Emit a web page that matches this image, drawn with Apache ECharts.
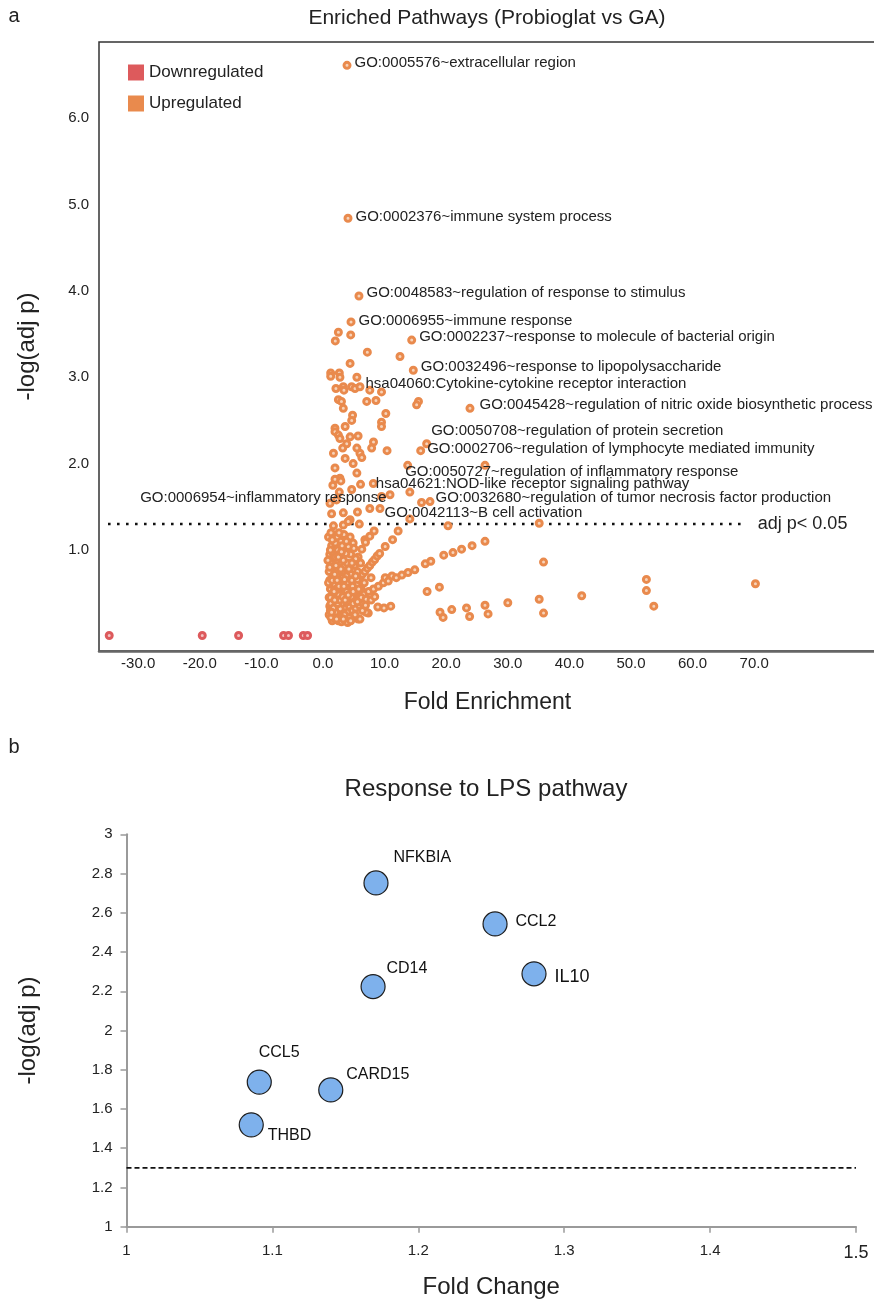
<!DOCTYPE html>
<html><head><meta charset="utf-8">
<script src="https://cdn.jsdelivr.net/npm/echarts@6/dist/echarts.min.js"></script>
<style>html,body{margin:0;padding:0;background:#fff}#c{width:874px;height:1301px}</style>
</head><body><div id="c"></div>
<script>
const FONT = '"Liberation Sans", Arial, Helvetica, sans-serif';

// ---------- Panel a data ----------
const downPoints = [[-34.7,0.01],[-19.6,0.01],[-13.7,0.01],[-6.4,0.01],[-5.6,0.01],[-3.2,0.01],[-2.5,0.01]];

const upAbove = [
 [2.5,3.52],[2.0,3.42],[4.5,3.49],[7.2,3.29],[12.5,3.24],[4.4,3.16],
 [1.25,3.05],[2.65,3.05],[1.25,3.01],[2.75,3.0],[5.5,3.0],
 [2.1,2.87],[3.3,2.89],[3.4,2.85],[4.65,2.89],[5.2,2.87],[7.6,2.85],[9.5,2.83],
 [2.5,2.74],[3.0,2.72],[3.3,2.64],[7.1,2.72],[8.6,2.73],[15.5,2.72],[15.2,2.68],
 [4.8,2.56],[4.66,2.5],[10.2,2.58],[9.5,2.48],[9.5,2.43],[3.6,2.43],[1.95,2.41],
 [1.95,2.37],[2.5,2.33],[2.75,2.29],[4.4,2.31],[3.85,2.23],[5.7,2.32],[8.2,2.25],[7.9,2.18],[10.4,2.15],
 [6.0,2.12],[5.5,2.18],[3.2,2.18],[1.7,2.12],[3.6,2.06],[6.3,2.07],[4.9,2.0],[1.95,1.95],[5.5,1.89],
 [2.75,1.83],[1.95,1.82],[2.9,1.8],[6.1,1.76],[4.66,1.7],[2.65,1.67],[9.5,1.62],[14.1,1.67],[16.0,1.55],[26.3,1.98],
 [1.14,1.54],[1.4,1.42],[3.3,1.43],[7.6,1.48],[4.4,1.35],[14.1,1.36],[2.2,1.58],[5.6,1.44],[1.6,1.75],
 [1.7,1.28],[3.3,1.29],[4.1,1.33],[5.9,1.3],[20.3,1.28],[35.1,1.31]
];
const upBelow = [
 [8.3,1.22],[12.2,1.22],[1.8,1.14],[4.4,1.15],[4.9,1.08],[6.8,1.12],[11.3,1.12],[10.1,1.04],[0.9,1.15],[1.3,1.2],[2.3,1.15],[2.9,1.1],[3.4,1.18],
 [4.2,0.41],[5.0,0.44],[5.8,0.46],[6.6,0.49],[7.4,0.52],[8.2,0.55],[9.0,0.58],[9.8,0.62],[10.1,0.68],[11.2,0.7],[12.8,0.71],[13.8,0.74],[14.9,0.77],[16.6,0.84],[17.5,0.87],[19.6,0.94],[21.1,0.97],[22.5,1.01],[24.2,1.05],[26.3,1.1],[10.6,0.64],[11.9,0.68],
 [4.4,0.5],[5.2,0.58],[6.0,0.66],[6.4,0.72],[6.8,0.75],[7.2,0.79],[7.6,0.82],[8.0,0.86],[8.4,0.89],[8.8,0.93],[9.2,0.96],
 [3.3,0.52],[3.9,0.62],[4.5,0.72],[5.1,0.82],[5.7,0.92],[6.3,1.01],[6.9,1.09],[7.6,1.16],
 [35.8,0.86],[52.5,0.66],[52.5,0.53],[70.2,0.61],[53.7,0.35],[42.0,0.47],[35.1,0.43],[35.8,0.27],[30.0,0.39],[26.3,0.36],[26.8,0.26],[23.3,0.33],[23.8,0.23],[20.9,0.31],[19.0,0.28],[19.5,0.22],[16.9,0.52],[18.9,0.57],[11.0,0.35],[9.9,0.33],[8.9,0.34],[7.35,0.27],[5.7,0.2],[4.4,0.27],[1.95,0.2],
 [1.0,0.25],[1.1,0.35],[1.0,0.45],[1.2,0.55],[1.1,0.65],[1.0,0.75],[1.3,0.85],[1.1,0.95],[1.4,1.05],[1.2,0.3],[1.5,0.4],[1.6,0.5],[1.4,0.6],[1.7,0.7],[1.5,0.8],[1.8,0.9],[1.6,1.0],[1.9,0.6],[2.0,0.45],[2.1,0.35],[1.8,0.28],[2.3,0.25],[2.5,0.3],[2.2,0.55],[2.4,0.72],[2.6,0.85],[2.8,0.95],[2.2,0.88],[2.0,1.08],[2.9,0.5],[3.0,0.38],[2.7,0.64],[3.1,0.75],[3.4,0.45],[3.2,0.3],[3.7,0.33],[4.0,0.28],[4.3,0.35],[3.6,0.22],[4.8,0.3],[5.3,0.33],[5.9,0.36],[6.5,0.38],[2.5,0.18],[3.0,0.17],[4.0,0.16],[1.5,0.18],[2.0,0.2],[0.9,0.62],[0.8,0.88],[3.9,0.85],[4.5,0.95],[3.6,1.0],[5.0,1.02],[4.2,0.55],[5.5,0.6],[4.7,0.65],[3.8,0.7],[6.2,0.45],[7.0,0.43],[5.6,0.75],[6.1,0.85],[5.3,0.9],[6.0,0.2],[7.0,0.28],[2.2,0.4],[2.6,0.48],[3.0,0.58],[3.5,0.66],[2.9,0.78],[3.3,0.88],[3.7,0.96],[4.1,1.04],[2.4,1.0],[1.9,0.72],[2.1,0.82],[1.7,0.95],[3.9,0.4],[4.6,0.46],[5.4,0.52],[6.2,0.55],[4.8,0.58],[5.6,0.66],[3.8,0.52],[2.8,0.32],[3.5,0.25],[4.7,0.22],[5.2,0.25],[6.4,0.3],[2.0,0.28],[1.3,0.22],[1.2,0.45],
 [1.3,0.38],[1.7,0.33],[2.4,0.38],[2.7,0.42],[3.2,0.46],[3.6,0.42],[1.5,0.65],[1.8,0.52],[2.3,0.65],[2.6,0.58],[3.4,0.58],[2.0,0.92],[2.5,0.92],[3.0,0.98],[1.2,1.0],[1.5,1.12],[2.6,1.2],[3.1,1.05],[3.8,1.1],[1.1,0.8],[1.9,0.42],[2.8,0.22],[3.3,0.2],[4.3,0.22],[4.9,0.38],[5.6,0.4],[4.1,0.48],[4.9,0.52],[5.3,0.7],[4.2,0.78],[4.7,0.85],[5.8,0.55],[6.7,0.62],[7.8,0.68],[6.9,0.36],[7.8,0.42],[8.4,0.46],[1.4,0.28],[2.2,0.2],[4.5,0.18]
];

const pathwayNames = [
 'GO:0005576~extracellular region',
 'GO:0002376~immune system process',
 'GO:0048583~regulation of response to stimulus',
 'GO:0006955~immune response',
 'GO:0002237~response to molecule of bacterial origin',
 'GO:0032496~response to lipopolysaccharide',
 'hsa04060:Cytokine-cytokine receptor interaction',
 'GO:0045428~regulation of nitric oxide biosynthetic process',
 'GO:0050708~regulation of protein secretion',
 'GO:0002706~regulation of lymphocyte mediated immunity',
 'GO:0050727~regulation of inflammatory response',
 'hsa04621:NOD-like receptor signaling pathway',
 'GO:0006954~inflammatory response',
 'GO:0032680~regulation of tumor necrosis factor production',
 'GO:0042113~B cell activation'
];
const pathwayFold = [3.9,4.06,5.84,4.55,14.4,14.66,6.0,23.86,16.83,15.86,13.75,8.17,10.88,17.37,9.25];
const pathwayLogP = [6.61,4.84,3.94,3.64,3.43,3.08,2.89,2.64,2.23,2.15,1.98,1.77,1.64,1.56,1.48];
// label placement (styling): [dx, dy, align]
const pathwayLabelPlace = [[9,-1,'left'],[9,0,'left'],[9,-2,'left'],[9,0,'left'],[9,-2,'left'],[9,-1.5,'left'],[7,-1,'left'],[11,-2,'left'],[6,-11,'left'],[8,0,'left'],[-1,8,'left'],[4,2,'left'],[-2,5,'right'],[7,-2,'left'],[6,6,'left']];

const xTicksA = [-30,-20,-10,0,10,20,30,40,50,60,70];
const yTicksA = [1,2,3,4,5,6];
const thresholdA = 1.301;           // -log10(0.05)
const thresholdSpanA = [-34.9, 68.8];

// ---------- Panel b data ----------
const genes = ['NFKBIA','CD14','CCL2','IL10','CCL5','CARD15','THBD'];
const geneFold = [1.171,1.169,1.2526,1.2793,1.091,1.140,1.0855];
const geneLogP = [2.752,2.224,2.543,2.289,1.737,1.697,1.519];
const geneLabelPlace = [[18,-25,16],[14,-17,16],[21,-2,16],[21,4,18],[0,-29,16],[16,-15,16],[17,11,16]];
const thresholdB = 1.3;

const ORANGE = '#E98A4D', ORANGE_C = '#F7D3B9', RED = '#DD5A5C', RED_C = '#F3C3C3';

const chart = echarts.init(document.getElementById('c'), null, {renderer:'canvas'});

const labeledData = pathwayNames.map((n,i)=>{
  const p = pathwayLabelPlace[i];
  return {name:n, value:[pathwayFold[i], pathwayLogP[i]],
    label:{show:true, formatter:n, position:[3+p[0], 3+p[1]], align:p[2], verticalAlign:'middle'}};
});
const geneData = genes.map((g,i)=>{
  const p = geneLabelPlace[i];
  return {name:g, value:[geneFold[i], geneLogP[i]],
    label:{show:true, formatter:g, position:[12+p[0], 12+p[1]], align:'left', verticalAlign:'middle', fontSize:p[2]}};
});

const dotStyle = (c, cc) => ({color:cc, borderColor:c, borderWidth:3, opacity:1});

const option = {
  animation:false,
  textStyle:{fontFamily:FONT},
  graphic:[
    {type:'text', x:14, y:16, style:{text:'a', fontSize:20, fontFamily:FONT, fill:'#222', align:'center', verticalAlign:'middle'}},
    {type:'text', x:487, y:18, style:{text:'Enriched Pathways (Probioglat vs GA)', fontSize:21, fontFamily:FONT, fill:'#222', align:'center', verticalAlign:'middle'}},
    {type:'text', x:14, y:747, style:{text:'b', fontSize:20, fontFamily:FONT, fill:'#222', align:'center', verticalAlign:'middle'}},
    {type:'text', x:486, y:789, style:{text:'Response to LPS pathway', fontSize:24, fontFamily:FONT, fill:'#222', align:'center', verticalAlign:'middle'}}
  ],
  legend:{
    left:128, top:64, orient:'vertical', padding:0, itemGap:14, itemWidth:16, itemHeight:16, icon:'rect',
    textStyle:{fontSize:17, color:'#222', fontFamily:FONT},
    data:[{name:'Downregulated', itemStyle:{color:RED, borderWidth:0}}, {name:'Upregulated', itemStyle:{color:ORANGE, borderWidth:0}}]
  },
  grid:[
    {left:99, top:42, width:777, height:609, show:true, borderColor:'#333', borderWidth:1.5, outerBoundsMode:'none'},
    {left:126.5, top:834.3, width:729.5, height:392.4, outerBoundsMode:'none'}
  ],
  xAxis:[
    {gridIndex:0, type:'value', min:-36.36, max:89.77,
     axisLine:{show:true, onZero:false, lineStyle:{color:'#666', width:2.5}},
     axisTick:{show:false}, splitLine:{show:false},
     axisLabel:{customValues:xTicksA, formatter:v=>v.toFixed(1), margin:5, fontSize:15, color:'#222', fontFamily:FONT},
     name:'Fold Enrichment', nameLocation:'middle', nameGap:40, nameTextStyle:{fontSize:23, color:'#222', fontFamily:FONT}},
    {gridIndex:1, type:'value', min:1, max:1.5, interval:0.1,
     axisLine:{show:true, onZero:false, lineStyle:{color:'#9a9a9a', width:2}},
     axisTick:{show:true, length:6, lineStyle:{color:'#9a9a9a', width:1.5}}, splitLine:{show:false},
     axisLabel:{margin:17, fontSize:15, color:'#222', fontFamily:FONT,
       formatter:v=>{const r=Math.round(v*10)/10; return r===1.5?'{big|1.5}':String(r);},
       rich:{big:{fontSize:18, color:'#222', fontFamily:FONT}}},
     name:'Fold Change', nameLocation:'middle', nameGap:49, nameTextStyle:{fontSize:24, color:'#222', fontFamily:FONT}}
  ],
  yAxis:[
    {gridIndex:0, type:'value', min:-0.169, max:6.88,
     axisLine:{show:false}, axisTick:{show:false}, splitLine:{show:false},
     axisLabel:{customValues:yTicksA, formatter:v=>v.toFixed(1), margin:10, fontSize:15, color:'#222', fontFamily:FONT},
     name:'-log(adj p)', nameLocation:'middle', nameGap:60, nameRotate:90, nameTextStyle:{fontSize:24, color:'#222', fontFamily:FONT}},
    {gridIndex:1, type:'value', min:1, max:3, interval:0.2,
     axisLine:{show:true, onZero:false, lineStyle:{color:'#9a9a9a', width:2}},
     axisTick:{show:true, length:6, lineStyle:{color:'#9a9a9a', width:1.5}}, splitLine:{show:false},
     axisLabel:{margin:14, fontSize:15, color:'#222', fontFamily:FONT},
     name:'-log(adj p)', nameLocation:'middle', nameGap:86, nameRotate:90, nameTextStyle:{fontSize:24, color:'#222', fontFamily:FONT}}
  ],
  series:[
    {name:'Downregulated', type:'scatter', xAxisIndex:0, yAxisIndex:0, symbolSize:6, data:downPoints, itemStyle:dotStyle(RED, RED_C), z:3},
    {name:'Upregulated', type:'scatter', xAxisIndex:0, yAxisIndex:0, symbolSize:6, data:upBelow.concat(upAbove), itemStyle:dotStyle(ORANGE, ORANGE_C), z:3},
    {name:'Upregulated', type:'scatter', xAxisIndex:0, yAxisIndex:0, symbolSize:6, data:labeledData, itemStyle:dotStyle(ORANGE, ORANGE_C), z:4,
     label:{fontSize:15, color:'#222', fontFamily:FONT}},
    {name:'threshA', type:'line', xAxisIndex:0, yAxisIndex:0, symbol:'none', silent:true, z:2,
     data:[[thresholdSpanA[0], thresholdA],[thresholdSpanA[1], thresholdA]],
     lineStyle:{color:'#111', width:2.6, type:[2.6,6.4]},
     endLabel:{show:true, formatter:'adj p< 0.05', fontSize:18, color:'#222', distance:11, fontFamily:FONT}},
    {name:'genes', type:'scatter', xAxisIndex:1, yAxisIndex:1, symbolSize:24, data:geneData, z:4,
     itemStyle:{color:'#7EB1EC', borderColor:'#1e1e1e', borderWidth:1.2, opacity:1},
     label:{color:'#111', fontFamily:FONT}},
    {name:'threshB', type:'line', xAxisIndex:1, yAxisIndex:1, symbol:'none', silent:true, z:2,
     data:[[1, thresholdB],[1.5, thresholdB]],
     lineStyle:{color:'#111', width:1.6, type:[5,3]}}
  ]
};
chart.setOption(option);
</script></body></html>
